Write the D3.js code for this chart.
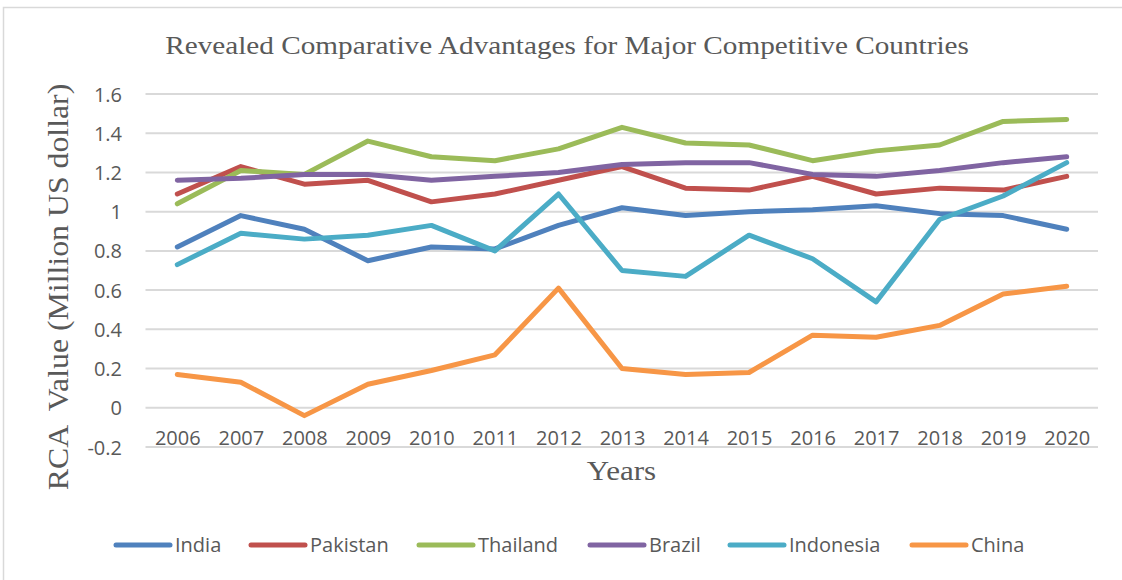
<!DOCTYPE html>
<html><head><meta charset="utf-8">
<script src="https://cdn.jsdelivr.net/npm/d3@7"></script>
<style>body{margin:0;background:#fff}svg{display:block}</style>
</head><body>
<svg id="chart" width="1122" height="580"></svg>
<script>
const years = ["2006","2007","2008","2009","2010","2011","2012","2013","2014","2015","2016","2017","2018","2019","2020"];
const india     = [0.82,0.98,0.91,0.75,0.82,0.81,0.93,1.02,0.98,1.00,1.01,1.03,0.99,0.98,0.91];
const pakistan  = [1.09,1.23,1.14,1.16,1.05,1.09,1.16,1.23,1.12,1.11,1.18,1.09,1.12,1.11,1.18];
const thailand  = [1.04,1.21,1.19,1.36,1.28,1.26,1.32,1.43,1.35,1.34,1.26,1.31,1.34,1.46,1.47];
const brazil    = [1.16,1.17,1.19,1.19,1.16,1.18,1.20,1.24,1.25,1.25,1.19,1.18,1.21,1.25,1.28];
const indonesia = [0.73,0.89,0.86,0.88,0.93,0.80,1.09,0.70,0.67,0.88,0.76,0.54,0.96,1.08,1.25];
const china     = [0.17,0.13,-0.04,0.12,0.19,0.27,0.61,0.20,0.17,0.18,0.37,0.36,0.42,0.58,0.62];
const seriesNames = ["India","Pakistan","Thailand","Brazil","Indonesia","China"];
const yTicks = [-0.2,0,0.2,0.4,0.6,0.8,1,1.2,1.4,1.6];

const colors = {India:"#4F81BD",Pakistan:"#C0504D",Thailand:"#9BBB59",Brazil:"#8064A2",Indonesia:"#4BACC6",China:"#F79646"};
const seriesData = {India:india,Pakistan:pakistan,Thailand:thailand,Brazil:brazil,Indonesia:indonesia,China:china};
const textColor = "#595959";
const serif = "'Liberation Serif','Times New Roman',serif";

const svg = d3.select("#chart");
svg.append("rect").attr("x",3.5).attr("y",7.5).attr("width",1300).attr("height",800)
  .attr("fill","none").attr("stroke","#d9d9d9").attr("stroke-width",1.5);

const x = d3.scalePoint().domain(years).range([177.3,1066.7]);
const y = d3.scaleLinear().domain([-0.2,1.6]).range([447,94]);
const plotLeft = 145.5, plotRight = 1098;

// gridlines
svg.append("g").selectAll("line").data(yTicks).join("line")
  .attr("x1",plotLeft).attr("x2",plotRight)
  .attr("y1",d=>y(d)).attr("y2",d=>y(d))
  .attr("stroke","#d9d9d9").attr("stroke-width",2);

// y axis labels
const yAxis = d3.axisLeft(y).tickValues(yTicks).tickSize(0).tickPadding(0)
  .tickFormat(d=>String(+d.toFixed(1)));
const gy = svg.append("g").attr("transform","translate(122,0)").call(yAxis);
gy.select(".domain").remove();
gy.selectAll("text").attr("font-family","'Open Sans',sans-serif").attr("font-size",20)
  .attr("fill",textColor).attr("dy","0.35em");

// x axis labels
const xAxis = d3.axisBottom(x).tickSize(0).tickPadding(0);
const gx = svg.append("g").attr("transform","translate(0,445)").call(xAxis);
gx.select(".domain").remove();
gx.selectAll("text").attr("font-family","'Open Sans',sans-serif").attr("font-size",20)
  .attr("fill",textColor).attr("dy",0).attr("y",0);

// lines
const line = d3.line().x((d,i)=>x(years[i])).y(d=>y(d));
seriesNames.forEach(name=>{
  svg.append("path").datum(seriesData[name]).attr("d",line)
    .attr("fill","none").attr("stroke",colors[name]).attr("stroke-width",5)
    .attr("stroke-linejoin","round").attr("stroke-linecap","round");
});

// title
svg.append("text").attr("transform","translate(567,53.5) scale(1.125,1)").attr("text-anchor","middle")
  .attr("font-family",serif).attr("font-size",26)
  .attr("fill",textColor).text("Revealed Comparative Advantages for Major Competitive Countries");

// axis titles
svg.append("text").attr("transform","translate(621.5,480) scale(1.15,1)").attr("text-anchor","middle")
  .attr("font-family",serif).attr("font-size",27)
  .attr("fill",textColor).text("Years");
svg.append("text").attr("transform","translate(68,287) rotate(-90) scale(1.06,1)").attr("text-anchor","middle")
  .attr("font-family",serif).attr("font-size",30)
  .attr("fill",textColor).style("white-space","pre").text("RCA  Value (Million US dollar)");

// legend
const legendX = [116,251,419,590,730,912];
const lg = svg.append("g").selectAll("g").data(seriesNames).join("g")
  .attr("transform",(d,i)=>`translate(${legendX[i]},545)`);
lg.append("line").attr("x1",0).attr("x2",54).attr("y1",0).attr("y2",0)
  .attr("stroke",d=>colors[d]).attr("stroke-width",5).attr("stroke-linecap","round");
lg.append("text").attr("x",59).attr("y",7).attr("font-family","'Open Sans',sans-serif")
  .attr("font-size",20).attr("fill",textColor).text(d=>d);
</script>
</body></html>
